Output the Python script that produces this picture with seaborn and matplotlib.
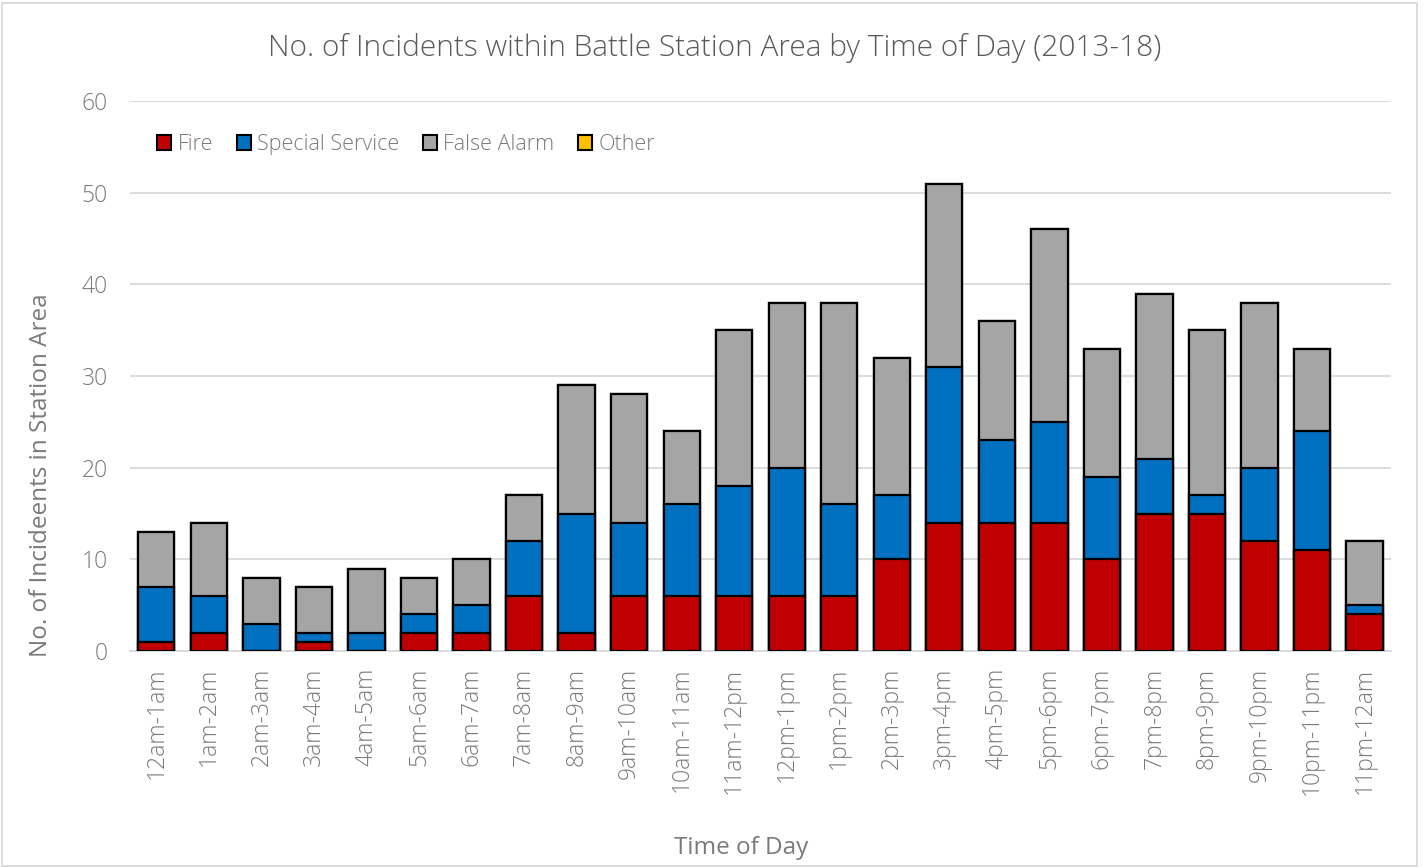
import matplotlib
matplotlib.use("Agg")
import matplotlib.pyplot as plt
from matplotlib.patches import Rectangle, Patch
import numpy as np
import pandas as pd
import seaborn as sns

# Hourly incident counts by type
hours = ["12am-1am", "1am-2am", "2am-3am", "3am-4am", "4am-5am", "5am-6am",
         "6am-7am", "7am-8am", "8am-9am", "9am-10am", "10am-11am", "11am-12pm",
         "12pm-1pm", "1pm-2pm", "2pm-3pm", "3pm-4pm", "4pm-5pm", "5pm-6pm",
         "6pm-7pm", "7pm-8pm", "8pm-9pm", "9pm-10pm", "10pm-11pm", "11pm-12am"]
fire = [1, 2, 0, 1, 0, 2, 2, 6, 2, 6, 6, 6, 6, 6, 10, 14, 14, 14, 10, 15, 15, 12, 11, 4]
special_service = [6, 4, 3, 1, 2, 2, 3, 6, 13, 8, 10, 12, 14, 10, 7, 17, 9, 11, 9, 6, 2, 8, 13, 1]
false_alarm = [6, 8, 5, 5, 7, 4, 5, 5, 14, 14, 8, 17, 18, 22, 15, 20, 13, 21, 14, 18, 18, 18, 9, 7]
other = [0] * 24

series_names = ["Fire", "Special Service", "False Alarm", "Other"]
series_colors = ["#c00000", "#0070c0", "#a5a5a5", "#ffc000"]

df = pd.DataFrame({"hour": hours, "Fire": fire, "Special Service": special_service,
                   "False Alarm": false_alarm, "Other": other})

sns.set_theme(style="white")
plt.rcParams["font.family"] = ["Open Sans", "DejaVu Sans"]
plt.rcParams["font.weight"] = "light"
title_color = "#595959"
text_color = "#7a7a7a"

fig = plt.figure(figsize=(14.23, 8.67), dpi=100)
ax = fig.add_axes([0.0914, 0.249, 0.886, 0.6345])

# Stack by drawing cumulative totals from the top down
cum = np.zeros(len(hours))
cums = []
for name in series_names:
    cum = cum + df[name].to_numpy()
    cums.append(cum.copy())

for name, color, total in reversed(list(zip(series_names, series_colors, cums))):
    sns.barplot(x=df["hour"], y=total, color=color, width=0.69, ax=ax,
                edgecolor="black", linewidth=1.6, saturation=1, zorder=3)

ax.set_ylim(0, 60)
ax.set_yticks(range(0, 61, 10))
ax.set_xlim(-0.5, len(hours) - 0.5)
ax.yaxis.grid(True, color="#d9d9d9", linewidth=1.3, zorder=0)
ax.set_axisbelow(True)
for s in ["top", "right", "left"]:
    ax.spines[s].set_visible(False)
ax.spines["bottom"].set_color("#d9d9d9")
ax.spines["bottom"].set_linewidth(1.3)
ax.tick_params(axis="both", length=0, colors=text_color, labelsize=16.5)
ax.tick_params(axis="x", pad=12)
ax.tick_params(axis="y", pad=16)
plt.setp(ax.get_xticklabels(), rotation=90)

ax.set_xlabel("Time of Day", fontsize=17.5, color=text_color)
ax.xaxis.set_label_coords(0.4845, -0.336)
ax.set_ylabel("No. of Incideents in Station Area", fontsize=17.5, color=text_color)
ax.yaxis.set_label_coords(-0.061, 0.32)
fig.text(0.502, 0.945, "No. of Incidents within Battle Station Area by Time of Day (2013-18)",
         ha="center", va="center", fontsize=21.5, color=title_color)

handles = [Patch(facecolor=c, edgecolor="black", linewidth=1.5) for c in series_colors]
leg = ax.legend(handles, series_names, loc="upper left", bbox_to_anchor=(0.006, 0.975),
                ncol=4, frameon=False, fontsize=15.5, handlelength=0.65, handleheight=0.65,
                handletextpad=0.3, columnspacing=1.1, labelcolor=text_color)

fig.patches.append(Rectangle((0.0015, 0.001), 0.9945, 0.995, transform=fig.transFigure,
                             fill=False, edgecolor="#d9d9d9", linewidth=1.3))

fig.savefig("out.png", dpi=100, facecolor="white")
